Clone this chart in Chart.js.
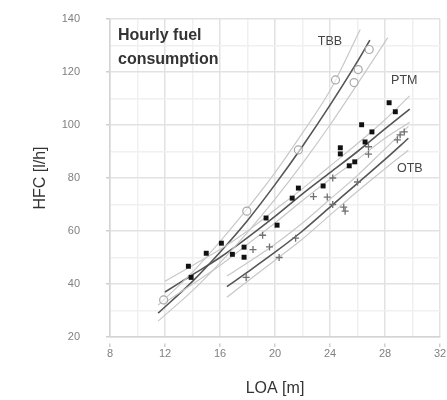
<!DOCTYPE html>
<html>
<head>
<meta charset="utf-8">
<script src="https://cdn.jsdelivr.net/npm/chart.js@4.4.0/dist/chart.umd.min.js"></script>
<style>
  html, body { margin: 0; padding: 0; background: #fff; }
  #wrap { width: 447px; height: 400px; }
</style>
</head>
<body>
<div id="wrap"><canvas id="hfcChart" width="447" height="400"></canvas></div>
<script>
// measured vessels (LOA m, HFC l/h)
const ptmLoa = [13.7, 13.9, 15.0, 16.1, 16.9, 17.75, 17.75, 19.35, 20.15, 21.25, 21.7, 23.5, 24.75, 24.75, 25.4, 25.8, 26.3, 26.55, 27.05, 28.3, 28.75];
const ptmHfc = [46.7, 42.5, 51.6, 55.4, 51.2, 53.9, 50.1, 64.9, 62.2, 72.4, 76.2, 77.0, 91.4, 89.1, 84.6, 86.1, 100.1, 93.6, 97.4, 108.4, 105.0];

const otbLoa = [17.9, 18.4, 19.1, 19.6, 20.3, 21.5, 22.8, 23.8, 24.2, 24.2, 25.0, 25.1, 26.0, 26.8, 26.8, 28.9, 29.1, 29.4];
const otbHfc = [42.5, 53.0, 58.4, 54.0, 50.0, 57.3, 73.0, 72.8, 80.0, 70.0, 69.0, 67.5, 78.5, 91.8, 89.0, 94.4, 96.3, 97.4];

const tbbLoa = [11.9, 17.95, 21.7, 24.4, 25.75, 26.05, 26.85];
const tbbHfc = [34.0, 67.5, 90.6, 117.0, 116.0, 120.9, 128.5];

// fitted curves with bands
const tbbFitLoa = [11.5, 14, 16, 18, 20, 22, 24, 26, 26.9];
const tbbFit = [29, 41, 52, 64, 77.5, 92, 107.5, 124, 132];
const tbbUpLoa = [11.5, 14, 16, 18, 20, 22, 24, 26.2];
const tbbUp = [32, 44.5, 56, 68.5, 82, 97, 113, 136];
const tbbLowLoa = [11.5, 14, 16, 18, 20, 22, 24, 26, 28.2];
const tbbLow = [26, 37.5, 48, 59.5, 72, 85.5, 100, 115.5, 133];

const ptmFitLoa = [12, 14, 16, 18, 20, 22, 24, 26, 28, 29.8];
const ptmFit = [37, 43.5, 50, 57.5, 65.5, 74, 82, 90, 98.5, 106];
const ptmUp = [41, 47, 53, 60, 68, 76, 84.5, 93, 102, 111];
const ptmLow = [33, 40, 47, 55, 63, 71.5, 79.5, 87, 95, 101];

const otbFitLoa = [16.5, 18, 20, 22, 24, 26, 28, 29.7];
const otbFit = [39, 44.5, 52, 60, 69, 78, 87, 95];
const otbUp = [43, 48, 55, 63, 72, 81, 91, 99.5];
const otbLow = [35, 41, 49, 57, 66, 75, 83.5, 90.5];

const groupLabels = [
  { text: 'TBB', x: 24.0, y: 131.5 },
  { text: 'PTM', x: 29.4, y: 116.7 },
  { text: 'OTB', x: 29.8, y: 83.4 }
];
const titleLines = ['Hourly fuel', 'consumption'];

const FONT = "'Liberation Sans', Arial, sans-serif";

const pts = (xs, ys) => xs.map((x, i) => ({ x: x, y: ys[i] }));

function curve(xs, ys, color, width) {
  return {
    type: 'line',
    data: pts(xs, ys),
    borderColor: color,
    borderWidth: width,
    pointRadius: 0,
    fill: false,
    tension: 0.4,
    cubicInterpolationMode: 'monotone',
    order: 5
  };
}

const textPlugin = {
  id: 'textPlugin',
  afterDatasetsDraw(chart) {
    const { ctx, chartArea, scales } = chart;
    ctx.save();
    ctx.fillStyle = '#333';
    ctx.font = 'bold 16px ' + FONT;
    ctx.textAlign = 'left';
    ctx.textBaseline = 'alphabetic';
    titleLines.forEach((t, i) => {
      ctx.fillText(t, chartArea.left + 8, chartArea.top + 21 + i * 24);
    });
    ctx.font = '12.5px ' + FONT;
    ctx.fillStyle = '#444';
    ctx.textAlign = 'center';
    ctx.textBaseline = 'middle';
    groupLabels.forEach(l => {
      ctx.fillText(l.text, scales.x.getPixelForValue(l.x), scales.y.getPixelForValue(l.y));
    });
    ctx.restore();
  }
};

const gridColor = (major) => (ctx) => (ctx.tick && ctx.tick.value % major === 0) ? '#e2e2e2' : '#f0f0f0';
const tickColor = (major) => (ctx) => (ctx.tick && ctx.tick.value % major === 0) ? '#cfcfcf' : 'rgba(0,0,0,0)';

const hfcChart = new Chart(document.getElementById('hfcChart').getContext('2d'), {
  type: 'scatter',
  data: {
    datasets: [
      curve(tbbUpLoa, tbbUp, '#c8c8c8', 1.2),
      curve(tbbLowLoa, tbbLow, '#c8c8c8', 1.2),
      curve(ptmFitLoa, ptmUp, '#c8c8c8', 1.2),
      curve(ptmFitLoa, ptmLow, '#c8c8c8', 1.2),
      curve(otbFitLoa, otbUp, '#c8c8c8', 1.2),
      curve(otbFitLoa, otbLow, '#c8c8c8', 1.2),
      curve(tbbFitLoa, tbbFit, '#555', 1.6),
      curve(ptmFitLoa, ptmFit, '#555', 1.6),
      curve(otbFitLoa, otbFit, '#555', 1.6),
      {
        label: 'TBB',
        data: pts(tbbLoa, tbbHfc),
        pointStyle: 'circle',
        pointRadius: 4,
        backgroundColor: 'rgba(255,255,255,0.6)',
        borderColor: '#a8a8a8',
        borderWidth: 1.2,
        order: 1
      },
      {
        label: 'OTB',
        data: pts(otbLoa, otbHfc),
        pointStyle: 'cross',
        pointRadius: 3.5,
        borderColor: '#707070',
        borderWidth: 1.3,
        order: 1
      },
      {
        label: 'PTM',
        data: pts(ptmLoa, ptmHfc),
        pointStyle: 'rect',
        pointRadius: 3.5,
        backgroundColor: '#111',
        borderColor: '#111',
        borderWidth: 0,
        order: 1
      }
    ]
  },
  options: {
    responsive: false,
    animation: false,
    layout: { padding: { left: 0, right: 7, top: 19, bottom: 0 } },
    plugins: {
      legend: { display: false },
      tooltip: { enabled: false }
    },
    scales: {
      x: {
        type: 'linear',
        min: 8,
        max: 32,
        afterFit: s => { s.height = 63; },
        ticks: {
          stepSize: 2,
          padding: 0,
          color: '#808080',
          font: { family: FONT, size: 11 },
          callback: v => (v % 4 === 0 ? v : '')
        },
        grid: {
          color: gridColor(4), lineWidth: 1.5,
          tickLength: 10, tickColor: tickColor(4), tickBorderDash: [0, 6, 4, 100]
        },
        border: { color: '#d4d4d4', width: 1.5 },
        title: {
          display: true,
          text: 'LOA [m]',
          color: '#333',
          font: { family: FONT, size: 16 },
          padding: { top: 0, bottom: 2 }
        }
      },
      y: {
        min: 20,
        max: 140,
        afterFit: s => { s.width = 110; },
        ticks: {
          stepSize: 10,
          padding: 0,
          color: '#808080',
          font: { family: FONT, size: 11 },
          callback: v => (v % 20 === 0 ? v : '')
        },
        grid: {
          color: gridColor(20), lineWidth: 1.5,
          tickLength: 30, tickColor: tickColor(20), tickBorderDash: [0, 26, 4, 100]
        },
        border: { color: '#d4d4d4', width: 1.5 },
        title: {
          display: true,
          text: 'HFC [l/h]',
          color: '#333',
          font: { family: FONT, size: 16 },
          padding: { top: 31, bottom: 0 }
        }
      }
    }
  },
  plugins: [textPlugin]
});
</script>
</body>
</html>
